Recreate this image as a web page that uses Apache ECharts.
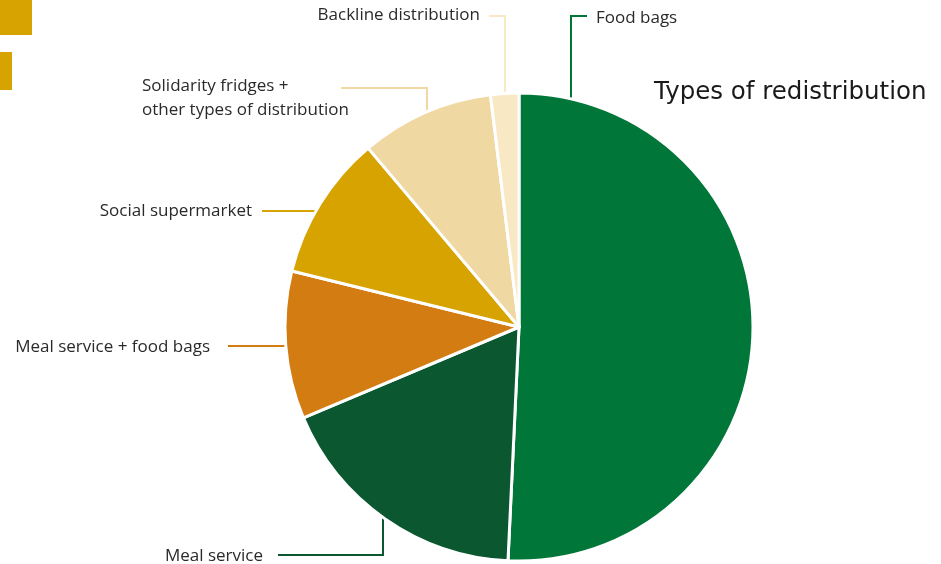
<!DOCTYPE html>
<html>
<head>
<meta charset="utf-8">
<script src="https://cdn.jsdelivr.net/npm/echarts@6/dist/echarts.min.js"></script>
<style>
  #main {height:564px;width:941px;position:absolute;}
  body {margin:0;padding:0;overflow:hidden;background:#fff;}
</style>
</head>
<body>
<div id="main"></div>
<script>
  // data
  const names = ['Food bags', 'Meal service', 'Meal service + food bags', 'Social supermarket',
                 'Solidarity fridges +\nother types of distribution', 'Backline distribution'];
  const values = [50.75, 17.9, 10.2, 10.0, 9.2, 1.95];
  const colors = ['#007638', '#0b5730', '#d27c12', '#d7a300', '#efd8a2', '#f9e8c4'];

  // pie geometry (px)
  const cx = 519, cy = 327, r = 234;

  // leader line per slice: vertical (v) at dx from center or horizontal (h) at dy from center
  // end = where the line stops, label = text anchor
  const guides = [
    {type: 'v', d: 52,   turn: 16,  end: 587, lx: 596, ly: 18,  align: 'left'},
    {type: 'v', d: 136,  turn: 555, end: 278, lx: 263, ly: 556, align: 'right', bottom: true, neg: true},
    {type: 'h', d: 19,   end: 228, lx: 210, ly: 347, align: 'right'},
    {type: 'h', d: -116, end: 262, lx: 252, ly: 211, align: 'right'},
    {type: 'v', d: 92,   turn: 88,  end: 341, lx: 142, ly: 98,  align: 'left', neg: true},
    {type: 'v', d: 14,   turn: 16,  end: 489, lx: 480, ly: 15,  align: 'right', neg: true}
  ];

  function linePoints(g) {
    if (g.type === 'h') {
      const y = cy + g.d;
      const x = cx - Math.sqrt(r * r - g.d * g.d) + 2;
      return [[x, y], [g.end, y]];
    }
    const x = g.neg ? cx - g.d : cx + g.d;
    const h = Math.sqrt(r * r - g.d * g.d) - 2;
    const y0 = g.bottom ? cy + h : cy - h;
    return [[x, y0], [x, g.turn], [g.end, g.turn]];
  }

  let myChart = echarts.init(document.getElementById('main'));
  let option = {
    animation: false,
    title: {
      text: 'Types of redistribution',
      left: 654,
      top: 80,
      padding: 0,
      textStyle: {fontFamily: 'DejaVu Sans', fontSize: 24.5, fontWeight: 'normal', color: '#1a1a1a'}
    },
    graphic: [
      {type: 'rect', shape: {x: 0, y: 0, width: 32, height: 35}, style: {fill: '#d7a300'}},
      {type: 'rect', shape: {x: 0, y: 52, width: 12, height: 38}, style: {fill: '#d7a300'}}
    ],
    series: [{
      type: 'pie',
      center: [cx, cy],
      radius: r,
      startAngle: 90,
      clockwise: true,
      avoidLabelOverlap: false,
      itemStyle: {borderColor: '#fff', borderWidth: 3},
      label: {
        show: true,
        position: 'outside',
        fontFamily: 'Open Sans',
        fontSize: 17,
        lineHeight: 24,
        color: '#2a2a2a'
      },
      labelLine: {show: true, lineStyle: {width: 2}},
      labelLayout: function (params) {
        const g = guides[params.dataIndex];
        return {
          x: g.lx,
          y: g.ly,
          align: g.align,
          verticalAlign: 'middle',
          labelLinePoints: linePoints(g)
        };
      },
      emphasis: {disabled: true},
      data: names.map(function (n, i) {
        return {name: n, value: values[i], itemStyle: {color: colors[i]}};
      })
    }]
  };
  myChart.setOption(option);
  window.onresize = myChart.resize;
</script>
</body>
</html>
